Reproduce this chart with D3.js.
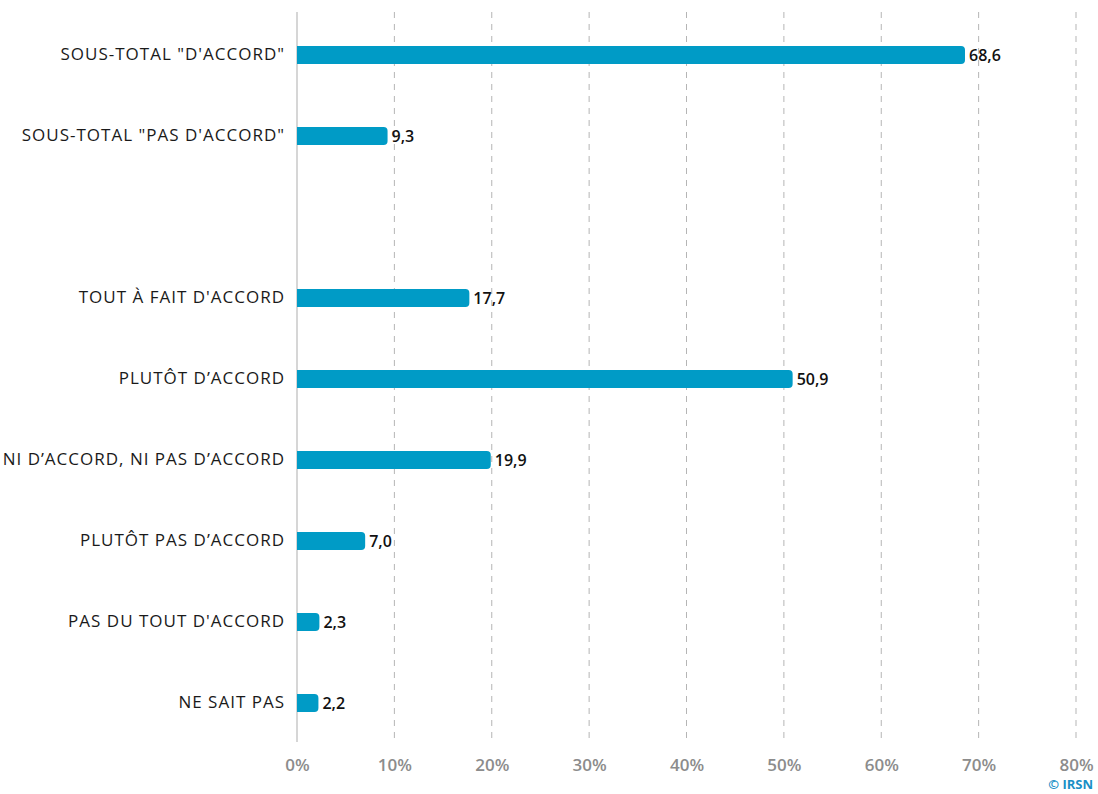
<!DOCTYPE html>
<html><head><meta charset="utf-8">
<script src="https://cdn.jsdelivr.net/npm/d3@7/dist/d3.min.js"></script>
<style>body{margin:0;background:#fff}svg{display:block}</style>
</head><body><svg id="c" width="1098" height="794"></svg>
<script>
const categories = ["SOUS-TOTAL \"D'ACCORD\"", "SOUS-TOTAL \"PAS D'ACCORD\"", "", "TOUT À FAIT D'ACCORD", "PLUTÔT D’ACCORD", "NI D’ACCORD, NI PAS D’ACCORD", "PLUTÔT PAS D’ACCORD", "PAS DU TOUT D'ACCORD", "NE SAIT PAS"];
const values = [68.6, 9.3, null, 17.7, 50.9, 19.9, 7.0, 2.3, 2.2];
const ticks = [0, 10, 20, 30, 40, 50, 60, 70, 80];

const svg = d3.select("#c");
const font = "'Open Sans', sans-serif";
const x = d3.scaleLinear().domain([0, 80]).range([297, 1076]);
const y = d3.scaleBand().domain(categories.map((d,i)=>i)).range([14.5, 743.5]);
const barH = 18;

// gridlines
svg.append("g").selectAll("line").data(ticks.slice(1)).join("line")
  .attr("x1", d=>x(d)).attr("x2", d=>x(d)).attr("y1", 12).attr("y2", 742)
  .attr("stroke", "#b5b5b5").attr("stroke-width", 1).attr("stroke-dasharray", "6,6");
svg.append("line").attr("x1", x(0)).attr("x2", x(0)).attr("y1", 12).attr("y2", 742)
  .attr("stroke", "#c8c8c8").attr("stroke-width", 1.5);

// x axis labels
const ax = d3.axisBottom(x).tickValues(ticks).tickSize(0).tickFormat(d=>d+"%");
const gx = svg.append("g").attr("transform", "translate(0,756)").call(ax);
gx.select(".domain").remove();
gx.selectAll("text").attr("font-family", font).attr("font-size", 17).attr("font-weight", 600).attr("fill", "#8c8c8c").attr("dy", "0.71em");

// bars
const data = values.map((v,i)=>({v, i})).filter(d=>d.v!=null);
const r = 4;
svg.append("g").selectAll("path").data(data).join("path")
  .attr("d", d=>{
    const x0 = x(0), x1 = x(d.v), yc = y(d.i) + y.bandwidth()/2, t = yc - barH/2, b = yc + barH/2;
    return `M${x0},${t}H${x1-r}Q${x1},${t} ${x1},${t+r}V${b-r}Q${x1},${b} ${x1-r},${b}H${x0}Z`;
  })
  .attr("fill", "#009bc6");

// value labels
svg.append("g").selectAll("text").data(data).join("text")
  .attr("x", d=>x(d.v)+4).attr("y", d=>y(d.i)+y.bandwidth()/2+2)
  .attr("dominant-baseline", "middle")
  .attr("font-family", font).attr("font-size", 16).attr("font-weight", 600).attr("fill", "#111")
  .text(d=>d.v.toFixed(1).replace(".", ","));

// category labels
svg.append("g").selectAll("text").data(categories.map((c,i)=>({c,i})).filter(d=>d.c)).join("text")
  .attr("x", 285).attr("y", d=>y(d.i)+y.bandwidth()/2)
  .attr("text-anchor", "end").attr("dominant-baseline", "middle")
  .attr("font-family", font).attr("font-size", 17).attr("letter-spacing", 1).attr("fill", "#1a1a1a")
  .text(d=>d.c);

svg.append("text").attr("x", 1093).attr("y", 789).attr("text-anchor", "end")
  .attr("font-family", font).attr("font-size", 13).attr("font-weight", 700).attr("fill", "#1a8fc6")
  .text("© IRSN");
</script></body></html>
